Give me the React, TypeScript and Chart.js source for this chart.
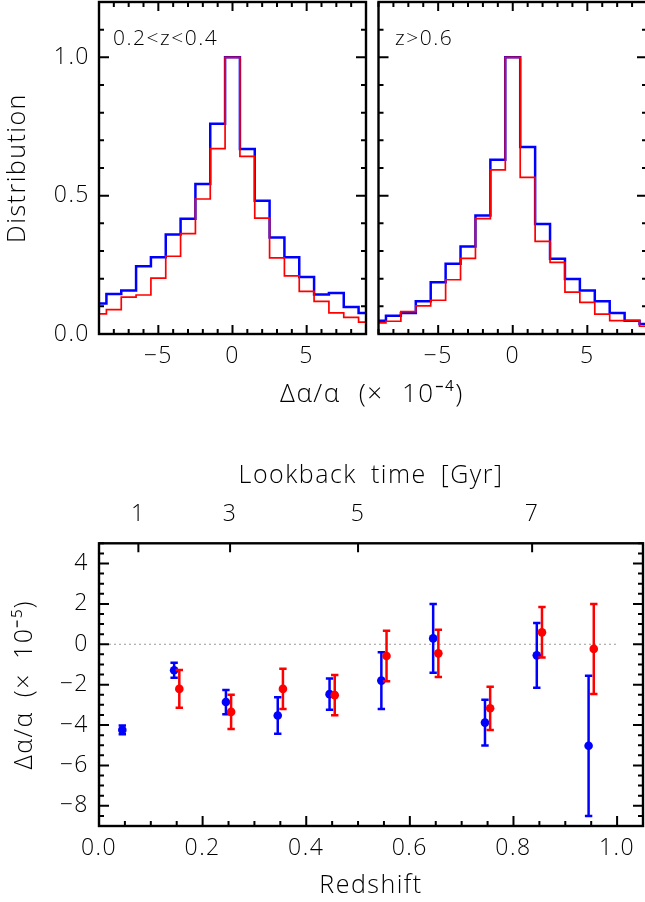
import React, { useEffect, useRef } from "react";
import { Chart, registerables } from "chart.js";
Chart.register(...registerables);

// ---------------- data ----------------
const binCenters = [-9, -8, -7, -6, -5, -4, -3, -2, -1, 0, 1, 2, 3, 4, 5, 6, 7, 8, 9];
const lowZBlue = [0.11, 0.145, 0.157, 0.245, 0.277, 0.36, 0.417, 0.542, 0.76, 1.0, 0.669, 0.482, 0.349, 0.277, 0.206, 0.143, 0.148, 0.098, 0.076];
const lowZRed = [0.073, 0.088, 0.133, 0.141, 0.202, 0.281, 0.363, 0.488, 0.67, 1.0, 0.642, 0.419, 0.275, 0.21, 0.154, 0.118, 0.076, 0.06, 0.043];
const highZBlue = [0.048, 0.066, 0.076, 0.118, 0.187, 0.254, 0.316, 0.428, 0.63, 1.0, 0.676, 0.398, 0.272, 0.199, 0.157, 0.118, 0.076, 0.048, 0.036];
const highZRed = [0.04, 0.046, 0.081, 0.102, 0.122, 0.196, 0.273, 0.417, 0.593, 1.0, 0.566, 0.335, 0.259, 0.151, 0.114, 0.072, 0.048, 0.048, 0.028];
const histXTicks = [-5, 0, 5];
const histYTicks = [0, 0.5, 1.0];
const panelLabels = ["0.2<z<0.4", "z>0.6"];

const blueZ = [0.045, 0.145, 0.245, 0.345, 0.445, 0.545, 0.645, 0.745, 0.845, 0.945];
const blueDA = [-4.24, -1.29, -2.86, -3.53, -2.47, -1.8, 0.29, -3.88, -0.55, -5.03];
const blueErr = [0.22, 0.37, 0.6, 0.9, 0.77, 1.4, 1.7, 1.13, 1.6, 3.47];
const redZ = [0.155, 0.255, 0.355, 0.455, 0.555, 0.655, 0.755, 0.855, 0.955];
const redDA = [-2.21, -3.35, -2.21, -2.52, -0.58, -0.45, -3.17, 0.59, -0.23];
const redErr = [0.93, 0.85, 1.0, 1.0, 1.25, 1.17, 1.07, 1.25, 2.23];
const zTicks = [0, 0.2, 0.4, 0.6, 0.8, 1.0];
const daTicks = [-8, -6, -4, -2, 0, 2, 4];
const lookbackGyr = [1, 3, 5, 7];
const lookbackZ = [0.076, 0.253, 0.5, 0.836];

// ---------------- style ----------------
const FONT = "'Open Sans', 'DejaVu Sans', sans-serif";
const WEIGHT = "300";
const FS = 23;
const TFS = 25;
const BLUE = "#0000ff";
const RED = "#ff0000";

const fmt = (v: number, d: number) => (v < 0 ? "\u2212" : "") + Math.abs(v).toFixed(d);

function fixBox(size: { w?: number; h?: number }) {
  return (s: any) => {
    if (size.w !== undefined) s.width = size.w;
    if (size.h !== undefined) s.height = size.h;
    s.paddingLeft = 0;
    s.paddingRight = 0;
    s.paddingTop = 0;
    s.paddingBottom = 0;
  };
}

const spacingPlugin = {
  id: "textSpacing",
  beforeDraw(chart: any) {
    chart.ctx.letterSpacing = "1.5px";
    chart.ctx.wordSpacing = "6px";
  },
};

type TickSpec = { v: number; len: number };
function makeFramePlugin(cfg: {
  x: string;
  y: string;
  bottom: TickSpec[];
  top: TickSpec[];
  left: TickSpec[];
  right: TickSpec[];
}) {
  return {
    id: "frameTicks",
    afterDatasetsDraw(chart: any) {
      const { ctx, chartArea } = chart;
      const { left, right, top, bottom } = chartArea;
      const xs = chart.scales[cfg.x];
      const ys = chart.scales[cfg.y];
      ctx.save();
      ctx.strokeStyle = "#000";
      ctx.lineWidth = 2;
      ctx.lineCap = "butt";
      ctx.beginPath();
      for (const t of cfg.bottom) {
        const p = xs.getPixelForValue(t.v);
        ctx.moveTo(p, bottom);
        ctx.lineTo(p, bottom - t.len);
      }
      for (const t of cfg.top) {
        const p = xs.getPixelForValue(t.v);
        ctx.moveTo(p, top);
        ctx.lineTo(p, top + t.len);
      }
      for (const t of cfg.left) {
        const p = ys.getPixelForValue(t.v);
        ctx.moveTo(left, p);
        ctx.lineTo(left + t.len, p);
      }
      for (const t of cfg.right) {
        const p = ys.getPixelForValue(t.v);
        ctx.moveTo(right, p);
        ctx.lineTo(right - t.len, p);
      }
      ctx.stroke();
      ctx.lineWidth = 2.4;
      ctx.strokeRect(left, top, right - left, bottom - top);
      ctx.restore();
    },
  };
}

function makeTextPlugin(
  items: { text: string; x: number; y: number; size: number; align: CanvasTextAlign; ls: number; ws: number }[]
) {
  return {
    id: "extraText",
    afterDraw(chart: any) {
      const ctx = chart.ctx;
      ctx.save();
      ctx.fillStyle = "#000";
      ctx.textBaseline = "middle";
      for (const it of items) {
        ctx.font = `${WEIGHT} ${it.size}px ${FONT}`;
        ctx.letterSpacing = `${it.ls}px`;
        ctx.wordSpacing = `${it.ws}px`;
        ctx.textAlign = it.align;
        ctx.fillText(it.text, it.x, it.y);
      }
      ctx.restore();
    },
  };
}

function ticksRange(from: number, to: number, step: number, majors: number[], minorLen: number, majorLen: number): TickSpec[] {
  const out: TickSpec[] = [];
  const n = Math.round((to - from) / step);
  for (let i = 0; i <= n; i++) {
    const v = +(from + i * step).toFixed(6);
    const isMajor = majors.some((m) => Math.abs(m - v) < 1e-6);
    out.push({ v, len: isMajor ? majorLen : minorLen });
  }
  return out;
}

const tickFont = { family: FONT, size: FS, weight: WEIGHT };
const titleFont = { family: FONT, size: TFS, weight: WEIGHT };

function histConfig(blue: number[], red: number[], showY: boolean, pad: any, extra: any[]) {
  const xT = ticksRange(-9, 9, 1, histXTicks, 5, 9);
  const yT = ticksRange(0, 1.2, 0.1, histYTicks, 5, 10);
  return {
    type: "line",
    data: {
      datasets: [
        {
          label: "all",
          data: binCenters.map((x, i) => ({ x, y: blue[i] })),
          borderColor: BLUE,
          borderWidth: 2.5,
          stepped: "middle",
          pointRadius: 0,
          order: 2,
        },
        {
          label: "subset",
          data: binCenters.map((x, i) => ({ x, y: red[i] })),
          borderColor: RED,
          borderWidth: 1.7,
          stepped: "middle",
          pointRadius: 0,
          order: 1,
        },
      ],
    },
    options: {
      animation: false,
      responsive: false,
      maintainAspectRatio: false,
      layout: { padding: pad, autoPadding: false },
      plugins: { legend: { display: false }, tooltip: { enabled: false } },
      scales: {
        x: {
          type: "linear",
          min: -9,
          max: 9,
          grid: { display: false, drawTicks: false },
          border: { display: false },
          afterBuildTicks: (s: any) => {
            s.ticks = histXTicks.map((v) => ({ value: v }));
          },
          ticks: {
            padding: 8.2,
            autoSkip: false,
            maxRotation: 0,
            minRotation: 0,
            color: "#000",
            font: tickFont,
            callback: (v: any) => fmt(Number(v), 0),
          },
          afterFit: fixBox({ h: 86 }),
        },
        y: {
          display: showY,
          min: 0,
          max: 1.2,
          grid: { display: false, drawTicks: false },
          border: { display: false },
          afterBuildTicks: (s: any) => {
            s.ticks = histYTicks.map((v) => ({ value: v }));
          },
          ticks: {
            padding: 9,
            autoSkip: false,
            color: "#000",
            font: tickFont,
            callback: (v: any) => fmt(Number(v), 1),
          },
          title: {
            display: true,
            text: "Distribution",
            color: "#000",
            font: titleFont,
            padding: { top: 3, bottom: 0 },
          },
          afterFit: fixBox({ w: showY ? 99 : 0 }),
        },
      },
    },
    plugins: [
      spacingPlugin,
      makeFramePlugin({ x: "x", y: "y", bottom: xT, top: xT, left: yT, right: yT }),
      makeTextPlugin(extra),
    ],
  };
}

function errorBarData(z: number[], v: number[], e: number[]) {
  const out: any[] = [];
  z.forEach((x, i) => {
    out.push({ x, y: v[i] - e[i] });
    out.push({ x, y: v[i] + e[i] });
    out.push({ x, y: null });
  });
  return out;
}

function redshiftConfig() {
  const bT = ticksRange(0, 1.05, 0.05, zTicks, 5, 10);
  const tT = lookbackZ.map((v) => ({ v, len: 9 }));
  const yT = ticksRange(-9, 5, 0.5, daTicks, 5, 10);
  return {
    type: "line",
    data: {
      datasets: [
        {
          label: "zero",
          data: [
            { x: 0, y: 0 },
            { x: 1.0, y: 0 },
          ],
          borderColor: "#999999",
          borderWidth: 1,
          borderDash: [2, 3],
          pointRadius: 0,
          order: 10,
        },
        {
          label: "blue err",
          data: errorBarData(blueZ, blueDA, blueErr),
          showLine: true,
          spanGaps: false,
          borderColor: BLUE,
          borderWidth: 2.5,
          pointStyle: "line",
          pointRadius: 3.7,
          pointBorderWidth: 2.5,
          pointBorderColor: BLUE,
          order: 4,
        },
        {
          label: "blue",
          data: blueZ.map((x, i) => ({ x, y: blueDA[i] })),
          showLine: false,
          pointRadius: 4.3,
          pointBorderWidth: 0,
          pointBackgroundColor: BLUE,
          order: 3,
        },
        {
          label: "red err",
          data: errorBarData(redZ, redDA, redErr),
          showLine: true,
          spanGaps: false,
          borderColor: RED,
          borderWidth: 2.5,
          pointStyle: "line",
          pointRadius: 3.7,
          pointBorderWidth: 2.5,
          pointBorderColor: RED,
          order: 2,
        },
        {
          label: "red",
          data: redZ.map((x, i) => ({ x, y: redDA[i] })),
          showLine: false,
          pointRadius: 4.3,
          pointBorderWidth: 0,
          pointBackgroundColor: RED,
          order: 1,
        },
      ],
    },
    options: {
      animation: false,
      responsive: false,
      maintainAspectRatio: false,
      layout: { padding: { left: 0, top: 0, right: 2, bottom: 0 }, autoPadding: false },
      plugins: { legend: { display: false }, tooltip: { enabled: false } },
      scales: {
        x: {
          type: "linear",
          position: "bottom",
          min: 0,
          max: 1.05,
          grid: { display: false, drawTicks: false },
          border: { display: false },
          afterBuildTicks: (s: any) => {
            s.ticks = zTicks.map((v) => ({ value: v }));
          },
          ticks: {
            padding: 8.2,
            autoSkip: false,
            maxRotation: 0,
            minRotation: 0,
            color: "#000",
            font: tickFont,
            callback: (v: any) => fmt(Number(v), 1),
          },
          title: {
            display: true,
            text: "Redshift",
            color: "#000",
            font: titleFont,
            padding: { top: 0, bottom: 1 },
          },
          afterFit: fixBox({ h: 76 }),
        },
        x2: {
          type: "linear",
          axis: "x",
          position: "top",
          min: 0,
          max: 1.05,
          grid: { display: false, drawTicks: false },
          border: { display: false },
          afterBuildTicks: (s: any) => {
            s.ticks = lookbackZ.map((v) => ({ value: v }));
          },
          ticks: {
            padding: 15.5,
            autoSkip: false,
            maxRotation: 0,
            minRotation: 0,
            color: "#000",
            font: tickFont,
            callback: (_v: any, i: number) => String(lookbackGyr[i]),
          },
          title: {
            display: true,
            text: "Lookback time [Gyr]",
            color: "#000",
            font: titleFont,
            padding: { top: 21, bottom: 0 },
          },
          afterFit: fixBox({ h: 103.3 }),
        },
        y: {
          min: -9,
          max: 5,
          grid: { display: false, drawTicks: false },
          border: { display: false },
          afterBuildTicks: (s: any) => {
            s.ticks = daTicks.map((v) => ({ value: v }));
          },
          ticks: {
            padding: 10,
            autoSkip: false,
            color: "#000",
            font: tickFont,
            callback: (v: any) => fmt(Number(v), 0),
          },
          title: {
            display: true,
            text: "\u0394\u03b1/\u03b1 (\u00d7 10\u207b\u2075)",
            color: "#000",
            font: titleFont,
            padding: { top: 10, bottom: 0 },
          },
          afterFit: fixBox({ w: 99 }),
        },
      },
    },
    plugins: [spacingPlugin, makeFramePlugin({ x: "x", y: "y", bottom: bT, top: tT, left: yT, right: yT })],
  };
}

export default function App() {
  const refA = useRef<HTMLCanvasElement | null>(null);
  const refB = useRef<HTMLCanvasElement | null>(null);
  const refC = useRef<HTMLCanvasElement | null>(null);

  useEffect(() => {
    const charts: Chart[] = [];
    if (refA.current) {
      charts.push(
        new Chart(
          refA.current,
          histConfig(lowZBlue, lowZRed, true, { left: 0, top: 2, right: 279, bottom: 0 }, [
            { text: panelLabels[0], x: 113, y: 39, size: 21, align: "left", ls: 1.5, ws: 0 },
            { text: "\u0394\u03b1/\u03b1 (\u00d7 10\u207b\u2074)", x: 372, y: 395, size: 26, align: "center", ls: 1.5, ws: 10 },
          ]) as any
        )
      );
    }
    if (refB.current) {
      charts.push(
        new Chart(
          refB.current,
          histConfig(highZBlue, highZRed, false, { left: 6.5, top: 2, right: 15, bottom: 0 }, [
            { text: panelLabels[1], x: 23, y: 39, size: 21, align: "left", ls: 1.5, ws: 0 },
          ]) as any
        )
      );
    }
    if (refC.current) {
      charts.push(new Chart(refC.current, redshiftConfig() as any));
    }
    return () => charts.forEach((c) => c.destroy());
  }, []);

  return (
    <div
      style={{
        position: "absolute",
        left: 0,
        top: 0,
        width: 645,
        height: 902,
        overflow: "hidden",
        background: "#fff",
      }}
    >
      <canvas ref={refA} width={645} height={420} style={{ position: "absolute", left: 0, top: 0, width: 645, height: 420 }} />
      <canvas ref={refB} width={290} height={420} style={{ position: "absolute", left: 372, top: 0, width: 290, height: 420 }} />
      <canvas ref={refC} width={645} height={462} style={{ position: "absolute", left: 0, top: 440, width: 645, height: 462 }} />
    </div>
  );
}
